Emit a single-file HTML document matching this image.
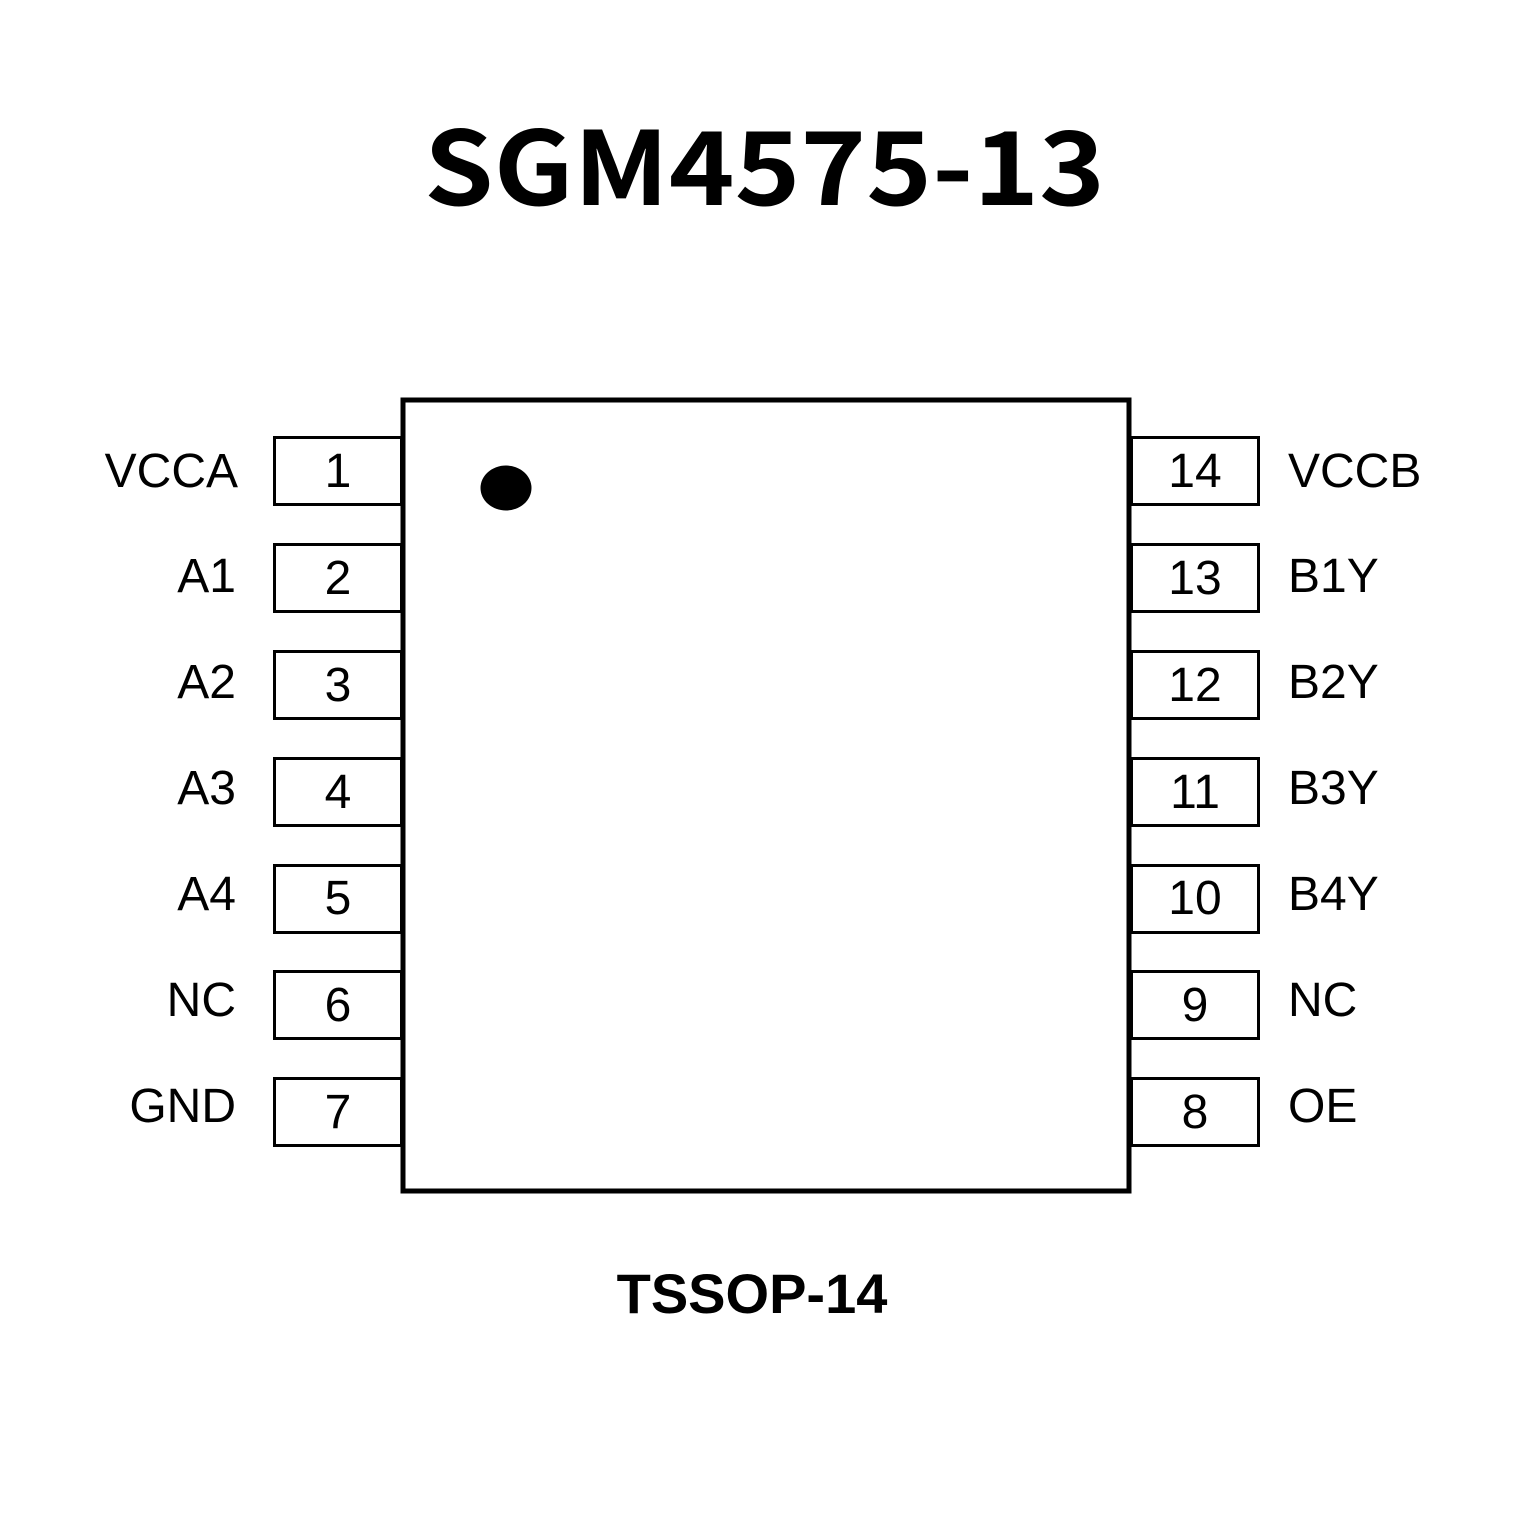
<!DOCTYPE html>
<html><head><meta charset="utf-8"><style>html,body{margin:0;padding:0;background:#fff}</style></head>
<body>
<svg width="1535" height="1535" xmlns="http://www.w3.org/2000/svg">
<rect width="1535" height="1535" fill="#fff"/>
<text x="424" y="205" textLength="681" lengthAdjust="spacingAndGlyphs" font-family="Noto Sans CJK SC, DejaVu Sans, sans-serif" font-weight="bold" font-size="102" fill="#000">SGM4575-13</text>
<g fill="#fff" stroke="#000" stroke-width="3">
<rect x="274.5" y="437.5" width="127" height="67"/>
<rect x="274.5" y="544.5" width="127" height="67"/>
<rect x="274.5" y="651.5" width="127" height="67"/>
<rect x="274.5" y="758.5" width="127" height="67"/>
<rect x="274.5" y="865.5" width="127" height="67"/>
<rect x="274.5" y="971.5" width="127" height="67"/>
<rect x="274.5" y="1078.5" width="127" height="67"/>
<rect x="1131.5" y="437.5" width="127" height="67"/>
<rect x="1131.5" y="544.5" width="127" height="67"/>
<rect x="1131.5" y="651.5" width="127" height="67"/>
<rect x="1131.5" y="758.5" width="127" height="67"/>
<rect x="1131.5" y="865.5" width="127" height="67"/>
<rect x="1131.5" y="971.5" width="127" height="67"/>
<rect x="1131.5" y="1078.5" width="127" height="67"/>
</g>
<rect x="403" y="400" width="726" height="791" fill="#fff" stroke="#000" stroke-width="5"/>
<ellipse cx="506" cy="488" rx="25.5" ry="22.5" fill="#000"/>
<g font-family="Liberation Sans, Arial, sans-serif" font-size="48" fill="#000" text-anchor="middle">
<text x="338" y="487">1</text>
<text x="338" y="594">2</text>
<text x="338" y="701">3</text>
<text x="338" y="808">4</text>
<text x="338" y="914">5</text>
<text x="338" y="1021">6</text>
<text x="338" y="1128">7</text>
<text x="1195" y="487">14</text>
<text x="1195" y="594">13</text>
<text x="1195" y="701">12</text>
<text x="1195" y="808">11</text>
<text x="1195" y="914">10</text>
<text x="1195" y="1021">9</text>
<text x="1195" y="1128">8</text>
</g>
<g font-family="Liberation Sans, Arial, sans-serif" font-size="48" fill="#000" text-anchor="end">
<text x="238" y="487">VCCA</text>
<text x="236" y="592">A1</text>
<text x="236" y="698">A2</text>
<text x="236" y="804">A3</text>
<text x="236" y="910">A4</text>
<text x="236" y="1016">NC</text>
<text x="236" y="1122">GND</text>
</g>
<g font-family="Liberation Sans, Arial, sans-serif" font-size="48" fill="#000">
<text x="1288" y="487">VCCB</text>
<text x="1288" y="592">B1Y</text>
<text x="1288" y="698">B2Y</text>
<text x="1288" y="804">B3Y</text>
<text x="1288" y="910">B4Y</text>
<text x="1288" y="1016">NC</text>
<text x="1288" y="1122">OE</text>
</g>
<text x="752" y="1313" text-anchor="middle" font-family="Liberation Sans, Arial, sans-serif" font-weight="bold" font-size="56" fill="#000">TSSOP-14</text>
</svg>
</body></html>
